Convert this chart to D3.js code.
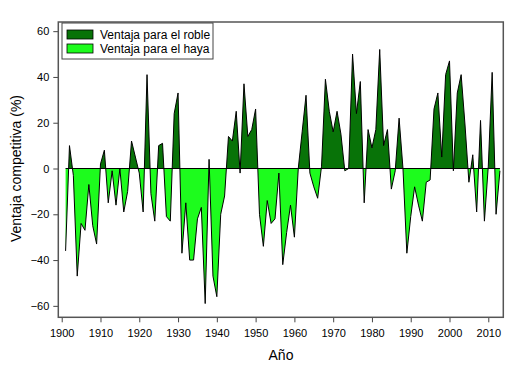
<!DOCTYPE html>
<html>
<head>
<meta charset="utf-8">
<script src="https://cdn.jsdelivr.net/npm/d3@7"></script>
<style>
  body { margin: 0; background: #fff; }
  text { font-family: "Liberation Sans", Arial, sans-serif; fill: #000; }
</style>
</head>
<body>
<div id="chart"></div>
<script>
// competitive advantage per year (positive = oak, negative = beech)
var years = d3.range(1901, 2014);
var ventaja = [
  -36, 10, -3, -47, -24, -27, -7, -25, -33, 2,      // 1901-1910
  8, -15, -1, -16, 0, -19, -10, 12, 5, -2,          // 1911-1920
  -19, 41, -11, -23, 10, 11, -21, -23, 24, 33,      // 1921-1930
  -37, -15, -40, -40, -22, -17, -59, 4, -47, -56,   // 1931-1940
  -20, -12, 14, 12, 25, -2, 37, 14, 17, 26,         // 1941-1950
  -20, -34, -14, -24, -22, -2, -42, -28, -16, -30,  // 1951-1960
  0, 16, 32, -2, -8, -13, 1, 39, 25, 16,            // 1961-1970
  25, 15, -1, 0, 50, 24, 38, -15, 17, 9,            // 1971-1980
  17, 52, 10, 17, -9, -1, 22, 0, -37, -21,          // 1981-1990
  -8, -16, -23, -6, -5, 26, 33, 5, 41, 47,          // 1991-2000
  -1, 33, 41, 19, -6, 6, -19, 21, -23, 1,           // 2001-2010
  42, -20, -1                                       // 2011-2013
];
var xTicks = d3.range(1900, 2011, 10);
var yTicks = [-60, -40, -20, 0, 20, 40, 60];
var seriesNames = ["Ventaja para el roble", "Ventaja para el haya"];
var seriesColors = ["#087308", "#1dfc1d"];

var width = 521, height = 371;
var plot = { left: 58.3, right: 503.3, top: 22, bottom: 317.3 };

var data = years.map(function(y, i) { return { year: y, v: ventaja[i] }; });

var svg = d3.select("#chart").append("svg")
    .attr("width", width)
    .attr("height", height);

var x = d3.scaleLinear().domain([1899.12, 2013.87]).range([plot.left, plot.right]);
var y = d3.scaleLinear().domain([-65, 64]).range([plot.bottom, plot.top]);

var defs = svg.append("defs");
defs.append("clipPath").attr("id", "clipUp")
  .append("rect")
    .attr("x", plot.left).attr("y", plot.top)
    .attr("width", plot.right - plot.left)
    .attr("height", y(0) - plot.top);
defs.append("clipPath").attr("id", "clipDown")
  .append("rect")
    .attr("x", plot.left).attr("y", y(0))
    .attr("width", plot.right - plot.left)
    .attr("height", plot.bottom - y(0));

var area = d3.area()
    .x(function(d) { return x(d.year); })
    .y0(y(0))
    .y1(function(d) { return y(d.v); });

svg.append("path")
    .datum(data)
    .attr("d", area)
    .attr("clip-path", "url(#clipUp)")
    .style("fill", seriesColors[0]);

svg.append("path")
    .datum(data)
    .attr("d", area)
    .attr("clip-path", "url(#clipDown)")
    .style("fill", seriesColors[1]);

// zero line
svg.append("line")
    .attr("x1", x(years[0])).attr("x2", x(years[years.length - 1]))
    .attr("y1", y(0)).attr("y2", y(0))
    .style("stroke", "#000")
    .style("stroke-width", 1);

// series outline
var line = d3.line()
    .x(function(d) { return x(d.year); })
    .y(function(d) { return y(d.v); });

svg.append("path")
    .datum(data)
    .attr("d", line)
    .style("fill", "none")
    .style("stroke", "#000")
    .style("stroke-width", 1)
    .style("stroke-linejoin", "miter");

// axes
var xAxis = svg.append("g")
    .attr("transform", "translate(0," + plot.bottom + ")")
    .call(d3.axisBottom(x).tickValues(xTicks).tickFormat(d3.format("d")).tickSize(5).tickPadding(4));
var yAxis = svg.append("g")
    .attr("transform", "translate(" + plot.left + ",0)")
    .call(d3.axisLeft(y).tickValues(yTicks).tickSize(5).tickPadding(4));

[xAxis, yAxis].forEach(function(g) {
  g.select(".domain").remove();
  g.selectAll(".tick line").style("stroke", "#444").style("stroke-width", 1);
  g.selectAll(".tick text")
    .style("font-family", '"Liberation Sans", Arial, sans-serif')
    .style("font-size", "11px")
    .style("fill", "#000");
});
xAxis.selectAll(".tick text").attr("dy", "1em");

// frame
svg.append("rect")
    .attr("x", plot.left).attr("y", plot.top)
    .attr("width", plot.right - plot.left)
    .attr("height", plot.bottom - plot.top)
    .style("fill", "none")
    .style("stroke", "#555")
    .style("stroke-width", 1.5);

// axis titles
svg.append("text")
    .attr("x", (x(1900) + x(2010)) / 2 + 6)
    .attr("y", 360)
    .attr("text-anchor", "middle")
    .style("font-size", "14px")
    .text("Año");

svg.append("text")
    .attr("transform", "translate(21," + y(0) + ") rotate(-90)")
    .attr("text-anchor", "middle")
    .style("font-size", "14px")
    .text("Ventaja competitiva (%)");

// legend
var legend = svg.append("g").attr("transform", "translate(62,23)");
legend.append("rect")
    .attr("width", 151).attr("height", 36)
    .style("fill", "#fff")
    .style("stroke", "#444")
    .style("stroke-width", 1);

var items = legend.selectAll(".item")
    .data(seriesNames)
  .enter().append("g")
    .attr("class", "item")
    .attr("transform", function(d, i) { return "translate(5," + (7 + i * 14) + ")"; });

items.append("rect")
    .attr("width", 26).attr("height", 9)
    .style("fill", function(d, i) { return seriesColors[i]; })
    .style("stroke", "#000")
    .style("stroke-width", 0.8);

items.append("text")
    .attr("x", 33)
    .attr("y", 9)
    .style("font-size", "12px")
    .text(function(d) { return d; });
</script>
</body>
</html>
